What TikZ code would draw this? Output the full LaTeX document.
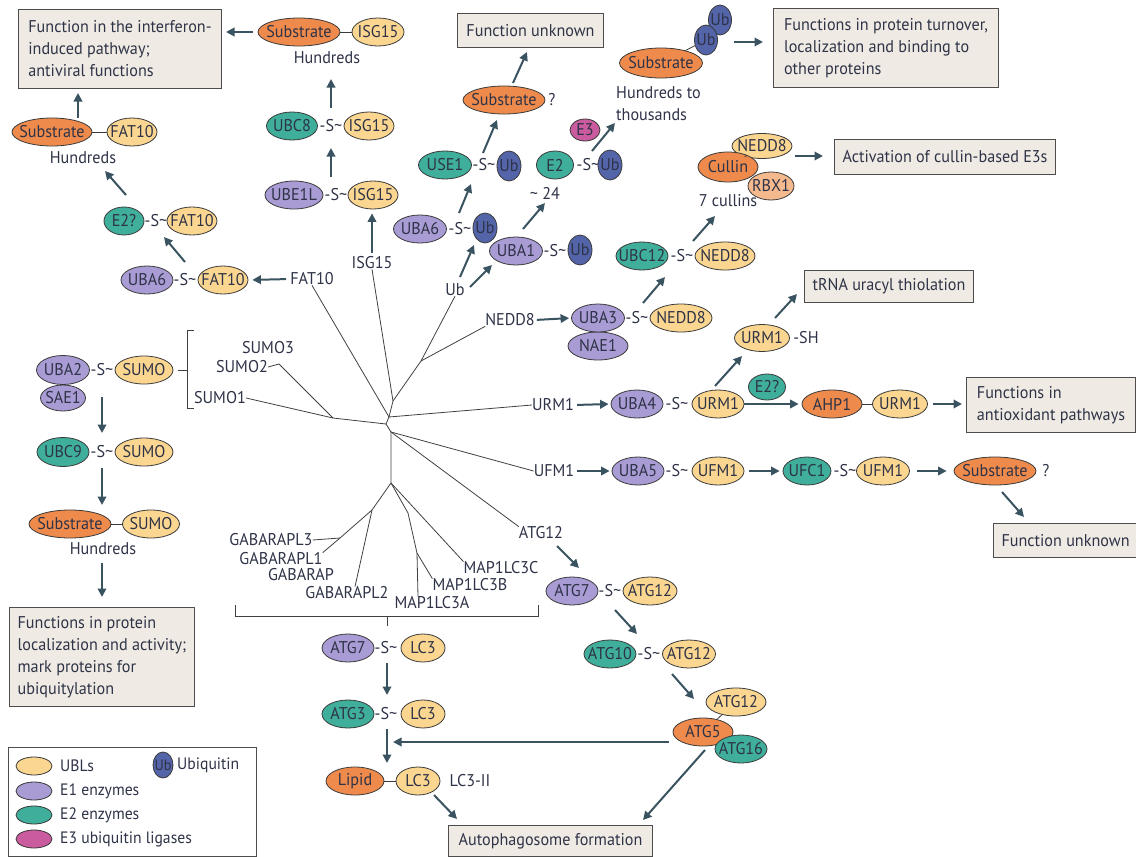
\documentclass[tikz,border=0pt]{standalone}
\usepackage{fontspec}
\setmainfont{PT Sans}[FakeStretch=0.95]
\usetikzlibrary{shapes.geometric,arrows.meta,calc}
\definecolor{txt}{HTML}{2E3347}
\definecolor{ublc}{HTML}{FBD690}
\definecolor{e1c}{HTML}{A99BD3}
\definecolor{e2c}{HTML}{3FAE9B}
\definecolor{e3c}{HTML}{C95B9E}
\definecolor{subc}{HTML}{EE8A4B}
\definecolor{ubc}{HTML}{5464A8}
\definecolor{rbxc}{HTML}{F5B98E}
\definecolor{boxf}{HTML}{EFEBE4}
\definecolor{boxd}{HTML}{4D4D4D}
\definecolor{arrc}{HTML}{3A5360}
\definecolor{treec}{HTML}{404040}
\definecolor{ovd}{HTML}{3A3A3A}
\newcommand\Ov[5]{\node[#1,minimum width=#4pt] (#2) at (#3) {\makebox[0pt]{#5}};}
\newcommand\Sx[2]{\node[stx] (#1) at (#2) {-S\textasciitilde};}
\newcommand\Ar[3]{\coordinate (#1s) at (#2); \coordinate (#1e) at (#3); \draw[arr] (#1s) -- (#1e);}
\newcommand\BX[6]{\node[funcbox, anchor=north west, minimum width=#4pt, minimum height=#5pt] (#1) at (#2,#3) {#6};}
\begin{document}
\begin{tikzpicture}[x=1pt,y=-1pt,
  font=\fontsize{17}{20}\selectfont, text=txt,
  ov/.style={ellipse, draw=ovd, line width=0.8pt, inner sep=0pt, minimum height=28pt},
  ubl/.style={ov, fill=ublc},
  eone/.style={ov, fill=e1c},
  etwo/.style={ov, fill=e2c},
  ethree/.style={ov, fill=e3c},
  subst/.style={ov, fill=subc},
  ubq/.style={ov, fill=ubc, minimum height=30pt},
  rbx/.style={ov, fill=rbxc},
  lbl/.style={inner sep=0pt},
  stx/.style={inner sep=0pt},
  funcbox/.style={draw=boxd, fill=boxf, line width=1pt, inner xsep=8pt, inner ysep=2pt, align=left, font=\fontsize{17}{22}\selectfont},
  arr/.style={draw=arrc, line width=2pt, -{Triangle[length=8.5pt,width=8.5pt]}},
  lnk/.style={draw=ovd, line width=0.8pt},
  treeline/.style={draw=treec, line width=0.8pt}]
\useasboundingbox (0,0) rectangle (1136,857);

% ---------- ISG15 ----------
\BX{bifn}{18}{9}{203}{79}{Function in the interferon-\\induced pathway;\\antiviral functions}
\Ov{subst}{subI}{299,32}{82}{Substrate}
\Ov{ubl}{isgS}{378,32}{52}{ISG15}
\draw[lnk] (subI) -- (isgS);
\node[lbl] (hundI) at (327,58) {Hundreds};
\Ov{etwo}{ubc8}{292,126}{51}{UBC8}
\Sx{sI1}{331,126}
\Ov{ubl}{isgC}{369,126}{50}{ISG15}
\Ov{eone}{ube1l}{294,195}{58}{UBE1L}
\Sx{sI2}{336,195}
\Ov{ubl}{isgB}{373,195}{50}{ISG15}
\node[lbl] (isgL) at (372,263) {ISG15};
\Ar{aI1}{331,108}{331,79}
\Ar{aI2}{331,177}{331,148}
\draw[arr, shorten <=4pt, shorten >=4pt] (isgL.north) -- (isgL.north |- isgB.south);
\draw[arr, shorten <=5pt, shorten >=4pt] (subI.west) -- (subI.west -| bifn.east);

% ---------- FAT10 ----------
\node[lbl] (fatL) at (312,279) {FAT10};
\Ov{eone}{uba6f}{147,280}{52}{UBA6}
\Sx{sF1}{185,280}
\Ov{ubl}{fatA}{223,280}{50}{FAT10}
\draw[arr, shorten <=4pt, shorten >=4pt] (fatL.west) -- (fatA.east);
\Ov{etwo}{e2f}{124,221}{40}{E2?}
\Sx{sF2}{156,221}
\Ov{ubl}{fatB}{192,221}{50}{FAT10}
\Ar{aF1}{185,262}{164,237}
\Ar{aF2}{126,195}{105,171}
\Ov{subst}{subF}{52,132}{80}{Substrate}
\Ov{ubl}{fatC}{132,132}{50}{FAT10}
\draw[lnk] (subF) -- (fatC);
\node[lbl] (hundF) at (83,158) {Hundreds};
\Ar{aF3}{78,118}{78,93}

% ---------- Ub ----------
\BX{bunk1}{457}{13}{146}{34}{Function unknown}
\Ar{aU1}{513,83}{527,52}
\Ov{subst}{subU}{504,100}{82}{Substrate}
\node[lbl] (qU) at (552,100) {?};
\Ar{aU2}{483,153}{497,120}
\Ov{etwo}{use1}{445,165}{53}{USE1}
\Sx{sU1}{484,165}
\Ov{ubq}{ubA}{509,166}{24}{Ub}
\Ov{eone}{uba6u}{420,229}{53}{UBA6}
\Sx{sU2}{460,229}
\Ov{ubq}{ubB}{485,228}{24}{Ub}
\Ar{aU3}{459,213}{471,184}
\Ov{eone}{uba1}{516,251}{53}{UBA1}
\Sx{sU3}{555,251}
\Ov{ubq}{ubC}{580,250}{24}{Ub}
\node[lbl] (ubL) at (455,290) {Ub};
\Ar{aU4}{460,277}{474,245}
\Ar{aU5}{470,287}{492,265}
\Ov{etwo}{e2u}{555,165}{37}{E2}
\Sx{sU4}{588,165}
\Ov{ubq}{ubD}{610,165}{24}{Ub}
\node[lbl] (n24) at (545,193) {\textasciitilde{} 24};
\Ar{aU6}{523,229}{545,203}
\Ov{ethree,minimum height=22pt}{e3}{585,130}{30}{E3}
\Ar{aU7}{592,151}{615,123}
\node[lbl, anchor=west, align=left, font=\fontsize{17}{22}\selectfont] (hundP) at (616,104) {Hundreds to\\thousands};
\Ov{ubq}{ubE}{720,20}{23}{Ub}
\Ov{subst,minimum height=30pt}{subP}{661,63}{83}{Substrate}
\Ov{ubq}{ubF}{706,40}{23}{Ub}
\draw[lnk] (subP) -- (ubF);
\Ar{aU8}{734,42}{763,42}
\BX{bturn}{773}{8}{225}{79}{Functions in protein turnover,\\localization and binding to\\other proteins}

% ---------- NEDD8 ----------
\Ov{ubl,minimum height=25pt}{neddT}{762,146}{60}{NEDD8}
\Ov{subst,minimum height=30pt}{cul}{728,167}{60}{Cullin}
\Ov{rbx}{rbx1}{771,186}{46}{RBX1}
\draw[lnk] (cul) -- (neddT);
\node[lbl] (cul7) at (728,201) {7 cullins};
\Ar{aN1}{795,156}{823,156}
\BX{bcul}{834}{139}{218}{35}{Activation of cullin-based E3s}
\Ar{aN2}{693,241}{715,216}
\Ov{etwo}{ubc12}{642,256}{52}{UBC12}
\Sx{sN1}{682,256}
\Ov{ubl}{neddB}{725,256}{60}{NEDD8}
\Ar{aN3}{643,303}{665,277}
\node[lbl] (neddL) at (510,320) {NEDD8};
\Ov{eone}{nae1}{598,346}{60}{NAE1}
\Ov{eone}{uba3}{598,318}{53}{UBA3}
\Sx{sN2}{637,318}
\Ov{ubl}{neddC}{681,318}{62}{NEDD8}
\draw[arr, shorten <=2pt, shorten >=2pt] (neddL.east) -- (uba3.west);

% ---------- URM1 ----------
\node[lbl] (urmL) at (553,405) {URM1};
\Ov{eone}{uba4}{637,404}{52}{UBA4}
\Sx{sR1}{677,404}
\Ov{ubl}{urmA}{718,404}{52}{URM1}
\draw[arr, shorten <=3pt, shorten >=2pt] (urmL.east) -- (uba4.west);
\Ov{etwo,minimum height=26pt}{e2r}{767,387}{37}{E2?}
\Ov{subst}{ahp1}{832,404}{60}{AHP1}
\Ov{ubl}{urmB}{900,404}{55}{URM1}
\draw[lnk] (ahp1) -- (urmB);
\draw[arr, shorten >=3pt] (urmA) -- (ahp1);
\BX{banti}{966}{377}{169}{55}{Functions in\\antioxidant pathways}
\draw[arr, shorten <=5pt, shorten >=4pt] (urmB.east) -- (urmB.east -| banti.west);
\Ov{ubl,minimum height=27pt}{urmSH}{762,338}{55}{URM1}
\node[lbl] (shL) at (806,338) {-SH};
\Ar{aR1}{715,386}{742,356}
\Ar{aR2}{775,318}{797,294}
\BX{btrna}{804}{270}{169}{32}{tRNA uracyl thiolation}

% ---------- UFM1 ----------
\node[lbl] (ufmL) at (554,471) {UFM1};
\Ov{eone}{uba5}{638,471}{52}{UBA5}
\Sx{sM1}{677,471}
\Ov{ubl}{ufmA}{718,471}{52}{UFM1}
\draw[arr, shorten <=3pt, shorten >=2pt] (ufmL.east) -- (uba5.west);
\Ov{etwo}{ufc1}{807,471}{48}{UFC1}
\Sx{sM2}{845,471}
\Ov{ubl}{ufmB}{883,471}{53}{UFM1}
\draw[arr, shorten <=5pt, shorten >=3pt] (ufmA) -- (ufc1);
\Ov{subst}{subM}{995,471}{82}{Substrate}
\node[lbl] (qM) at (1046,471) {?};
\draw[arr, shorten <=7pt, shorten >=7pt] (ufmB) -- (subM);
\Ar{aM1}{1002,492}{1024,517}
\BX{bunk2}{993}{523}{142}{34}{Function unknown}

% ---------- ATG12 ----------
\node[lbl] (atgL) at (541,533) {ATG12};
\Ar{aA1}{557,546}{579,568}
\Ov{eone}{atg7a}{572,591}{52}{ATG7}
\Sx{sA1}{610,591}
\Ov{ubl}{atg12a}{650,591}{54}{ATG12}
\Ar{aA2}{615,610}{637,634}
\Ov{etwo}{atg10}{610,654}{52}{ATG10}
\Sx{sA2}{649,654}
\Ov{ubl}{atg12b}{689,654}{53}{ATG12}
\Ar{aA3}{672,674}{694,699}
\Ov{ubl}{atg12c}{736,702}{60}{ATG12}
\Ov{subst}{atg5}{703,732}{60}{ATG5}
\Ov{etwo}{atg16}{741,749}{52}{ATG16}
\draw[lnk] (atg5) -- (atg12c);
\Ar{aA4}{669,742}{393,742}
\Ar{aA5}{705,750}{643,820}
\BX{bauto}{448}{825}{204}{31}{Autophagosome formation}

% ---------- LC3 ----------
\Ov{eone}{atg7b}{348,648}{52}{ATG7}
\Sx{sL1}{386,648}
\Ov{ubl}{lc3a}{423,648}{44}{LC3}
\Ar{aL1}{387,663}{387,695}
\Ov{etwo}{atg3}{348,714}{52}{ATG3}
\Sx{sL2}{386,714}
\Ov{ubl}{lc3b}{423,714}{44}{LC3}
\Ar{aL2}{387,729}{387,763}
\Ov{subst}{lipid}{355,781}{58}{Lipid}
\Ov{ubl}{lc3c}{418,781}{44}{LC3}
\draw[lnk] (lipid) -- (lc3c);
\node[lbl] (lc3ii) at (470,781) {LC3-II};
\Ar{aL3}{434,795}{457,819}

% ---------- SUMO ----------
\Ov{eone,minimum height=26pt}{sae1}{63,398}{45}{SAE1}
\Ov{eone,minimum height=29pt}{uba2}{63,370}{53}{UBA2}
\Sx{sS1}{102,370}
\Ov{ubl}{sumoA}{144,370}{58}{SUMO}
\Ar{aS1}{102,397}{102,433}
\Ov{etwo,minimum height=29pt}{ubc9}{63,452}{52}{UBC9}
\Sx{sS2}{102,452}
\Ov{ubl}{sumoB}{144,452}{58}{SUMO}
\Ar{aS2}{102,468}{102,505}
\Ov{subst}{subS}{70,524}{82}{Substrate}
\Ov{ubl}{sumoC}{151,524}{57}{SUMO}
\draw[lnk] (subS) -- (sumoC);
\node[lbl] (hundS) at (103,549) {Hundreds};
\Ar{aS3}{102,563}{102,597}
\BX{bsumo}{9}{607}{185}{99}{Functions in protein\\localization and activity;\\mark proteins for\\ubiquitylation}
\draw[treeline] (178,370) -- (187,370);
\draw[treeline] (194,330) -- (187,330) -- (187,408) -- (194,408);

% ---------- tree ----------
\node[lbl] (sumo3L) at (268,348) {SUMO3};
\node[lbl] (sumo2L) at (242,367) {SUMO2};
\node[lbl] (sumo1L) at (220,398) {SUMO1};
\node[lbl] (gl3L) at (271,540) {GABARAPL3};
\node[lbl] (gl1L) at (281,559) {GABARAPL1};
\node[lbl] (gL) at (301,575) {GABARAP};
\node[lbl] (gl2L) at (347,593) {GABARAPL2};
\node[lbl] (m3aL) at (432,603) {MAP1LC3A};
\node[lbl] (m3bL) at (470,585) {MAP1LC3B};
\node[lbl] (m3cL) at (501,568) {MAP1LC3C};
\coordinate (C1) at (389,417);
\coordinate (C2) at (386,424);
\coordinate (C3) at (391,432);
\coordinate (JU) at (393,401);
\coordinate (JN) at (421,361);
\coordinate (JS) at (333,418);
\coordinate (JS2) at (279,364);
\coordinate (C4) at (391,483);
\coordinate (G0) at (372,510);
\coordinate (G1) at (340,538);
\coordinate (B1) at (408,513);
\coordinate (B2) at (417,553);
\draw[treeline] (fatL.south) -- (C1);
\draw[treeline] (isgL.south) -- (JU) -- (C1) -- (C2) -- (C3) -- (C4);
\draw[treeline] (ubL.south) -- (JN) -- (JU);
\draw[treeline] (neddL.south west) -- (JN);
\draw[treeline] (urmL.west) -- (C1);
\draw[treeline] (C2) -- (JS) -- (sumo1L.east);
\draw[treeline] (JS) -- (JS2) -- (sumo2L.east);
\draw[treeline] (C3) -- (ufmL.west);
\draw[treeline] (C3) -- (atgL.north west);
\draw[treeline] (C4) -- (G0) -- ([xshift=8pt]gl2L.north);
\draw[treeline] (G0) -- (G1) -- (gl3L.east);
\draw[treeline] (G1) -- (gl1L.north east);
\draw[treeline] (C4) -- (m3cL.north west);
\draw[treeline] (C4) -- (B1) -- (B2) -- ([xshift=-14pt]m3aL.north);
\draw[treeline] (B2) -- (m3bL.north west);
\draw[treeline] (235,605) -- (235,616) -- (538,616) -- (538,605);
\draw[treeline] (387,616) -- (387,626);

% ---------- legend ----------
\node[draw=boxd, line width=1pt, fill=white, anchor=north west, minimum width=248pt, minimum height=109pt, inner sep=0pt] (legend) at (8,747) {};
\begin{scope}[font=\fontsize{16.5}{19}\selectfont]
\Ov{ubl,minimum height=18pt}{lgA}{34,766}{36}{}
\Ov{eone,minimum height=18pt}{lgB}{34,791}{36}{}
\Ov{etwo,minimum height=18pt}{lgC}{34,815}{36}{}
\Ov{ethree,minimum height=18pt}{lgD}{34,839}{36}{}
\node[lbl, anchor=west] (lgAt) at (60,766) {UBLs};
\node[lbl, anchor=west] (lgBt) at (60,791) {E1 enzymes};
\node[lbl, anchor=west] (lgCt) at (60,815) {E2 enzymes};
\node[lbl, anchor=west] (lgDt) at (60,839) {E3 ubiquitin ligases};
\Ov{ubq,minimum height=26pt}{lgE}{163,765}{20}{\fontsize{15}{18}\selectfont Ub}
\node[lbl, anchor=west] (lgEt) at (177,765) {Ubiquitin};
\end{scope}
\end{tikzpicture}
\end{document}
